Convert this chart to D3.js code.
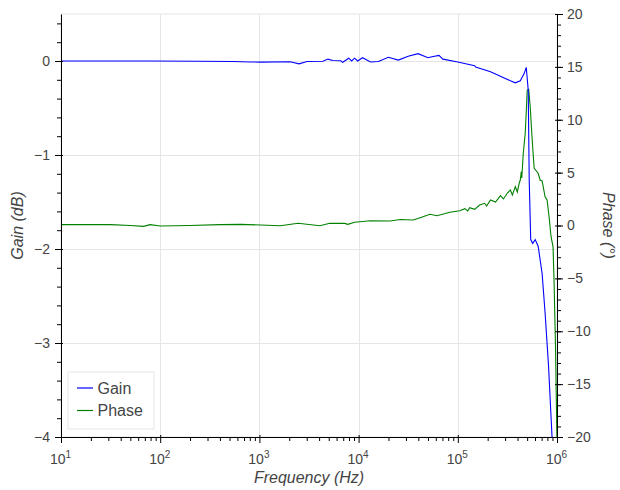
<!DOCTYPE html>
<html><head><meta charset="utf-8">
<script src="https://cdn.jsdelivr.net/npm/d3@7"></script>
<style>
body{margin:0;background:#fff;}
text{font-family:"Liberation Sans",Arial,Helvetica,sans-serif;}
</style></head><body>
<svg id="chart" width="620" height="490"></svg>
<script>
// ---- data ----
const gainFreq = [10,79,251,537,813,1023,2042,2512,3020,4365,4898,5495,6607,6918,7943,8511,9120,9772,10965,13183,15849,19953,25119,31623,39811,50119,54954,64565,70795,100000,147911,151356,213796,338844,380189,426580,467735,489779,512861,524807,543250,568853,602560,645654,707946,758578,822243,891251,912011];
const gainDb = [0.0,0.0,-0.002,-0.006,-0.01,-0.012,-0.008,-0.03,-0.006,-0.003,0.02,0.005,0.003,-0.014,0.03,0.0,0.03,0.0,0.035,-0.01,-0.005,0.04,0.01,0.05,0.078,0.035,0.046,0.06,0.02,-0.01,-0.05,-0.064,-0.114,-0.21,-0.232,-0.21,-0.131,-0.067,-0.31,-1.27,-1.9,-1.94,-1.9,-1.97,-2.26,-2.68,-3.25,-4.0,-4.3];
const phaseFreq = [10,31.6,50,68,79,100,200,398,646,1622,2455,4074,5129,7244,7762,9120,13183,20893,26303,35481,41687,52481,61660,83176,104713,117490,125893,131826,147911,165959,186209,194984,213796,239883,269153,288403,316228,338844,354813,380189,398107,416869,426580,436516,441570,457088,478630,501187,518800,537032,562341,588844,645654,676083,707946,758578,794328,831764,870964,912011,933254,966051,997700,1000000];
const phaseDeg = [0.08,0.08,0.0,-0.08,0.08,-0.05,0.0,0.08,0.11,-0.02,0.21,-0.02,0.21,0.2,0.11,0.3,0.45,0.43,0.57,0.52,0.74,1.06,0.93,1.25,1.4,1.59,1.37,1.68,1.53,1.94,2.1,1.84,2.41,2.22,2.82,2.51,3.07,3.36,2.88,3.67,3.17,4.02,4.3,5.09,4.49,6.83,8.75,12.81,12.88,11.23,8.08,5.41,4.94,4.3,4.21,2.72,2.41,0.83,-1.06,-2.0,-5.15,-11.46,-19.97,-21];
const xDecades = [10,100,1000,10000,100000,1000000];
const gainTicks = [-4,-3,-2,-1,0];
const phaseTicks = [-20,-15,-10,-5,0,5,10,15,20];
const legendItems = ["Gain","Phase"];
const colors = {Gain:"#0000ff", Phase:"#008000"};

// ---- layout ----
const L=61, R=557, T=14, B=437;
const svg = d3.select("#chart");
const x = d3.scaleLog().domain([10,1e6]).range([L,R]);
const yL = d3.scaleLinear().domain([-4,0.5]).range([B,T]);
const yR = d3.scaleLinear().domain([-20,20]).range([B,T]);
const txt = "#444444";

// outline + grid
svg.append("rect").attr("x",L).attr("y",T).attr("width",R-L).attr("height",B-T)
  .attr("fill","none").attr("stroke","#e5e5e5").attr("stroke-width",1);
svg.append("g").selectAll("line").data(xDecades.slice(1,-1)).join("line")
  .attr("x1",d=>Math.round(x(d))+0.5).attr("x2",d=>Math.round(x(d))+0.5)
  .attr("y1",T).attr("y2",B).attr("stroke","#e5e5e5");
svg.append("g").selectAll("line").data(gainTicks.filter(d=>d>-4)).join("line")
  .attr("x1",L).attr("x2",R)
  .attr("y1",d=>Math.round(yL(d))+0.5).attr("y2",d=>Math.round(yL(d))+0.5).attr("stroke","#e5e5e5");

// lines
const clip = svg.append("clipPath").attr("id","clip").append("rect")
  .attr("x",L).attr("y",T).attr("width",R-L).attr("height",B-T);
const gLines = svg.append("g").attr("clip-path","url(#clip)");
gLines.append("path").datum(d3.zip(phaseFreq,phaseDeg))
  .attr("d",d3.line().x(d=>x(d[0])).y(d=>yR(d[1])))
  .attr("fill","none").attr("stroke",colors.Phase).attr("stroke-width",1.1);
gLines.append("path").datum(d3.zip(gainFreq,gainDb))
  .attr("d",d3.line().x(d=>x(d[0])).y(d=>yL(d[1])))
  .attr("fill","none").attr("stroke",colors.Gain).attr("stroke-width",1.1);

// axes
function styleAxis(g){
  g.select(".domain").attr("stroke","#000");
  g.selectAll(".tick line").attr("stroke","#000");
  g.selectAll(".tick text").attr("fill",txt).style("font-size","14px");
}
// bottom
const minorX = [];
for(let e=1;e<6;e++) for(let m=2;m<10;m++) minorX.push(m*Math.pow(10,e));
const gxMinor = svg.append("g").attr("transform",`translate(0,${B})`)
  .call(d3.axisBottom(x).tickValues(minorX).tickSize(4).tickFormat("").tickSizeOuter(0));
gxMinor.select(".domain").remove(); gxMinor.selectAll(".tick line").attr("stroke","#000");
const gx = svg.append("g").attr("transform",`translate(0,${B})`)
  .call(d3.axisBottom(x).tickValues(xDecades).tickSize(6).tickSizeOuter(0).tickFormat(""));
styleAxis(gx);
gx.selectAll(".tick line").attr("y1",-2);
gx.selectAll(".tick").append("text").attr("fill",txt).attr("y",27).attr("x",-1)
  .attr("text-anchor","middle").style("font-size","14px")
  .each(function(d){
    const t=d3.select(this);
    t.append("tspan").text("10");
    t.append("tspan").attr("dy",-6).style("font-size","10px").text(Math.round(Math.log10(d)));
  });
// left
const minorL = d3.range(-4,0.5001,0.2).map(v=>+v.toFixed(1));
const gyMinor = svg.append("g").attr("transform",`translate(${L},0)`)
  .call(d3.axisLeft(yL).tickValues(minorL).tickSize(4).tickFormat("").tickSizeOuter(0));
gyMinor.select(".domain").remove(); gyMinor.selectAll(".tick line").attr("stroke","#000");
const gy = svg.append("g").attr("transform",`translate(${L},0)`)
  .call(d3.axisLeft(yL).tickValues(gainTicks).tickSize(6).tickSizeOuter(0).tickPadding(5)
    .tickFormat(d=>d<0?"\u2212"+Math.abs(d):String(d)));
styleAxis(gy);
gy.selectAll(".tick line").attr("x1",2);
// right
const minorR = d3.range(-20,20.001,1);
const grMinor = svg.append("g").attr("transform",`translate(${R},0)`)
  .call(d3.axisRight(yR).tickValues(minorR).tickSize(4).tickFormat("").tickSizeOuter(0));
grMinor.select(".domain").remove(); grMinor.selectAll(".tick line").attr("stroke","#000");
const gr = svg.append("g").attr("transform",`translate(${R},0)`)
  .call(d3.axisRight(yR).tickValues(phaseTicks).tickSize(6).tickSizeOuter(0).tickPadding(4)
    .tickFormat(d=>d<0?"\u2212"+Math.abs(d):String(d)));
styleAxis(gr);
gr.selectAll(".tick line").attr("x1",-2);

// axis titles
svg.append("text").attr("x",(L+R)/2).attr("y",483).attr("text-anchor","middle")
  .attr("fill",txt).style("font-size","16px").style("font-style","italic").text("Frequency (Hz)");
svg.append("text").attr("transform",`translate(23,${(T+B)/2}) rotate(-90)`).attr("text-anchor","middle")
  .attr("fill",txt).style("font-size","16px").style("font-style","italic").text("Gain (dB)");
svg.append("text").attr("transform",`translate(603,${(T+B)/2}) rotate(90)`).attr("text-anchor","middle")
  .attr("fill",txt).style("font-size","16px").style("font-style","italic").text("Phase (\u00b0)");

// legend
const lg = svg.append("g").attr("transform","translate(68,372)");
lg.append("rect").attr("width",86).attr("height",57).attr("fill","#fff").attr("fill-opacity",0.95)
  .attr("stroke","#e5e5e5");
const li = lg.selectAll("g.item").data(legendItems).join("g").attr("class","item")
  .attr("transform",(d,i)=>`translate(0,${16+i*22.5})`);
li.append("line").attr("x1",9).attr("x2",25).attr("stroke",d=>colors[d]).attr("stroke-width",1.2);
li.append("text").attr("x",29.5).attr("dy","0.35em").attr("fill",txt).style("font-size","16px").text(d=>d);
</script>
</body></html>
